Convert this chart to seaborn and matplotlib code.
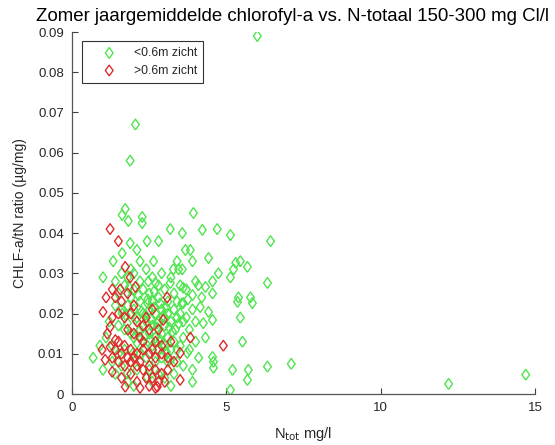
import numpy as np
import pandas as pd
import matplotlib
matplotlib.use("Agg")
import matplotlib.pyplot as plt
import seaborn as sns

title = "Zomer jaargemiddelde chlorofyl-a vs. N-totaal 150-300 mg Cl/l"
xlabel = r"N$_{\rm tot}$ mg/l"
ylabel = "CHLF-a/tN ratio (µg/mg)"
labels = ["<0.6m zicht", ">0.6m zicht"]
xticks = [0, 5, 10, 15]
xticklabels = ["0", "5", "10", "15"]
yticks = [0, 0.01, 0.02, 0.03, 0.04, 0.05, 0.06, 0.07, 0.08, 0.09]
yticklabels = ["0", "0.01", "0.02", "0.03", "0.04", "0.05", "0.06", "0.07", "0.08", "0.09"]

green_x = [6.0, 2.05, 1.88, 12.2, 14.7, 7.1,
           1.72, 1.62, 1.82, 2.27, 2.27, 1.88, 2.43, 2.8, 3.18, 3.57, 1.62, 2.1, 2.64, 1.33, 1.0, 1.4, 3.4, 3.45, 2.47,
           3.93, 4.22, 4.7, 5.13, 6.43, 3.67, 3.83, 4.42, 3.9, 3.28, 3.57, 5.3, 5.45, 5.68, 5.23, 5.13, 4.74, 4.55, 6.33, 4.09, 4.32, 3.18, 3.6, 2.7, 5.39, 5.78,
           5.36, 5.84, 5.45, 4.55, 4.15, 4.42, 4.25, 4.55, 5.52, 4.32, 4.55, 4.58, 4.58, 5.2, 5.71, 6.33, 5.68, 5.13, 3.9, 3.18, 3.4, 3.35, 3.6, 3.9, 3.73,
           0.68, 1.62, 1.79, 2.1, 1.98, 1.79, 2.43,
           1.5, 1.7, 1.9, 2.0, 2.2, 2.3, 2.5, 2.6, 2.8, 3.0, 3.1, 3.3, 3.5, 3.7, 3.2, 2.9, 2.4, 2.2, 1.9, 1.6,
           1.4, 1.6, 1.8, 2.0, 2.1, 2.3, 2.5, 2.7, 2.9, 3.1, 3.3, 3.5, 3.7, 3.9, 2.4, 2.6, 2.8, 3.0, 3.2, 3.4,
           1.5, 1.7, 1.9, 2.2, 2.5, 2.7, 2.9, 3.1, 3.3, 3.6, 3.8, 2.0, 2.3, 2.6, 2.8, 3.0, 3.2, 3.5,
           1.3, 1.5, 1.7, 2.2, 2.4, 2.7, 2.9, 3.1, 3.4, 3.6, 1.6, 1.9, 2.1, 2.5, 2.8, 3.0, 3.3, 1.4, 1.8, 2.6, 3.2, 2.0,
           1.2, 1.1, 0.9, 1.3, 1.0, 2.2, 2.0, 1.8, 2.6, 3.4, 3.0, 2.8, 3.6, 3.8, 4.0, 4.1, 3.9, 4.0, 4.2, 4.0,
           2.35, 2.55, 2.75, 2.95, 3.15, 2.45, 2.65, 2.85, 3.05, 2.15, 2.35, 2.55, 2.75, 2.95, 3.25, 2.05, 2.25, 2.45, 2.65, 3.45,
           1.85, 2.15, 3.55, 3.75, 1.75, 3.05, 2.35, 2.85]
green_y = [0.089, 0.067, 0.058, 0.0025, 0.0048, 0.0075,
           0.046, 0.0445, 0.043, 0.044, 0.0425, 0.0375, 0.038, 0.038, 0.041, 0.040, 0.035, 0.0358, 0.033, 0.033, 0.029, 0.028, 0.033, 0.031, 0.028,
           0.045, 0.0408, 0.041, 0.0395, 0.038, 0.0358, 0.0358, 0.0338, 0.033, 0.031, 0.031, 0.0326, 0.033, 0.0316, 0.031, 0.029, 0.030, 0.028, 0.0276, 0.027, 0.0266, 0.0276, 0.0264, 0.0276, 0.024, 0.024,
           0.0229, 0.0226, 0.019, 0.025, 0.0216, 0.0204, 0.0176, 0.0184, 0.013, 0.014, 0.0092, 0.008, 0.0065, 0.006, 0.006, 0.0068, 0.0035, 0.001, 0.003, 0.0085, 0.011, 0.016, 0.0226, 0.0246, 0.0102,
           0.009, 0.020, 0.0176, 0.0127, 0.0102, 0.0052, 0.0042,
           0.025, 0.027, 0.024, 0.030, 0.028, 0.026, 0.025, 0.023, 0.024, 0.026, 0.023, 0.025, 0.027, 0.026, 0.029, 0.030, 0.031, 0.033, 0.031, 0.030,
           0.022, 0.021, 0.022, 0.021, 0.019, 0.020, 0.021, 0.020, 0.021, 0.020, 0.021, 0.020, 0.019, 0.021, 0.018, 0.017, 0.018, 0.017, 0.018, 0.019,
           0.017, 0.016, 0.015, 0.016, 0.015, 0.014, 0.015, 0.014, 0.013, 0.014, 0.016, 0.014, 0.013, 0.012, 0.011, 0.012, 0.011, 0.012,
           0.012, 0.010, 0.011, 0.010, 0.009, 0.008, 0.009, 0.008, 0.008, 0.007, 0.007, 0.008, 0.006, 0.006, 0.005, 0.004, 0.005, 0.005, 0.003, 0.003, 0.002, 0.002,
           0.018, 0.014, 0.012, 0.008, 0.006, 0.023, 0.026, 0.029, 0.029, 0.023, 0.019, 0.027, 0.018, 0.011, 0.013, 0.009, 0.006, 0.018, 0.024, 0.028,
           0.0195, 0.0185, 0.0175, 0.0195, 0.0165, 0.0225, 0.0215, 0.0225, 0.0215, 0.0155, 0.0145, 0.0135, 0.0165, 0.0125, 0.0155, 0.0185, 0.0205, 0.0235, 0.0255, 0.0175,
           0.0265, 0.0245, 0.0225, 0.0235, 0.0195, 0.0105, 0.0115, 0.0135]

red_x = [1.23, 1.5, 1.72, 1.88, 2.05, 1.3, 1.56, 3.08, 2.95, 3.83, 3.5, 4.9, 3.5, 2.76, 1.0, 0.97, 1.07, 1.3, 1.72, 2.7, 2.2, 1.23, 1.14, 1.4, 1.23,
         1.4, 1.6, 1.5, 1.7, 1.9, 1.3, 2.1, 2.3, 1.8, 2.0, 2.2, 2.5, 2.7, 1.5, 1.7, 1.9, 2.1, 2.3, 2.5, 2.7, 2.9, 3.1, 1.3, 1.5, 1.7, 1.9, 2.1, 2.3, 2.5, 2.7, 2.9, 3.1,
         1.4, 1.6, 1.8, 2.0, 2.2, 2.4, 2.6, 2.8, 1.6, 1.9, 2.1, 2.5, 2.9, 3.3, 3.2, 2.4, 2.6, 2.0, 1.8, 2.8, 3.0, 1.1, 2.3, 2.6]
red_y = [0.041, 0.038, 0.0316, 0.029, 0.0266, 0.026, 0.026, 0.024, 0.0184, 0.014, 0.0102, 0.012, 0.0035, 0.0018, 0.0204, 0.011, 0.0085, 0.0055, 0.0018, 0.0015, 0.0015, 0.0167, 0.015, 0.0134, 0.0117,
         0.024, 0.023, 0.020, 0.019, 0.020, 0.019, 0.018, 0.017, 0.016, 0.015, 0.014, 0.016, 0.013, 0.013, 0.012, 0.011, 0.010, 0.011, 0.010, 0.009, 0.010, 0.009, 0.009, 0.008, 0.007, 0.008, 0.007, 0.006, 0.007, 0.006, 0.005, 0.006,
         0.011, 0.010, 0.009, 0.009, 0.008, 0.004, 0.004, 0.003, 0.004, 0.005, 0.003, 0.002, 0.012, 0.008, 0.013, 0.019, 0.021, 0.022, 0.025, 0.016, 0.003, 0.024, 0.013, 0.011]

green_col = "#4fe44f"
red_col = "#e02a2a"
diamond = [(0, -1), (0.72, 0), (0, 1), (-0.72, 0), (0, -1)]

sns.set_style("ticks")
plt.rcParams["font.family"] = ["Liberation Sans", "DejaVu Sans"]

fig = plt.figure(figsize=(5.55, 4.45), dpi=100)
ax = fig.add_axes([0.13, 0.1146, 0.834, 0.8134])

dg = pd.DataFrame({"x": green_x, "y": green_y})
dr = pd.DataFrame({"x": red_x, "y": red_y})
sns.scatterplot(data=dg, x="x", y="y", ax=ax, marker=diamond, s=60,
                facecolors="none", edgecolor=green_col, linewidth=1.0, label=labels[0])
sns.scatterplot(data=dr, x="x", y="y", ax=ax, marker=diamond, s=60,
                facecolors="none", edgecolor=red_col, linewidth=1.0, label=labels[1])

ax.set_xlim(0, 15)
ax.set_ylim(0, 0.09)
ax.set_xticks(xticks)
ax.set_xticklabels(xticklabels)
ax.set_yticks(yticks)
ax.set_yticklabels(yticklabels)
ax.tick_params(direction="in", length=4, width=0.8, colors="#404040", labelcolor="#262626", labelsize=9.5, pad=6)
for side in ["top", "right"]:
    ax.spines[side].set_visible(False)
for side in ["left", "bottom"]:
    ax.spines[side].set_color("#555555")
    ax.spines[side].set_linewidth(0.9)

ax.set_xlabel(xlabel, fontsize=10.5, color="#262626", labelpad=8)
ax.set_ylabel(ylabel, fontsize=10, color="#262626", labelpad=8)
ax.set_title(title, fontsize=13.4, color="black", pad=8, x=0.475)

leg = ax.legend(loc="upper left", bbox_to_anchor=(0.022, 0.975), fontsize=8.8,
                frameon=True, fancybox=False, edgecolor="black", borderpad=0.5,
                handletextpad=0.3, labelspacing=0.45, borderaxespad=0.0, handlelength=3.4)
leg.get_frame().set_linewidth(0.8)

fig.savefig("out.png", dpi=100)
